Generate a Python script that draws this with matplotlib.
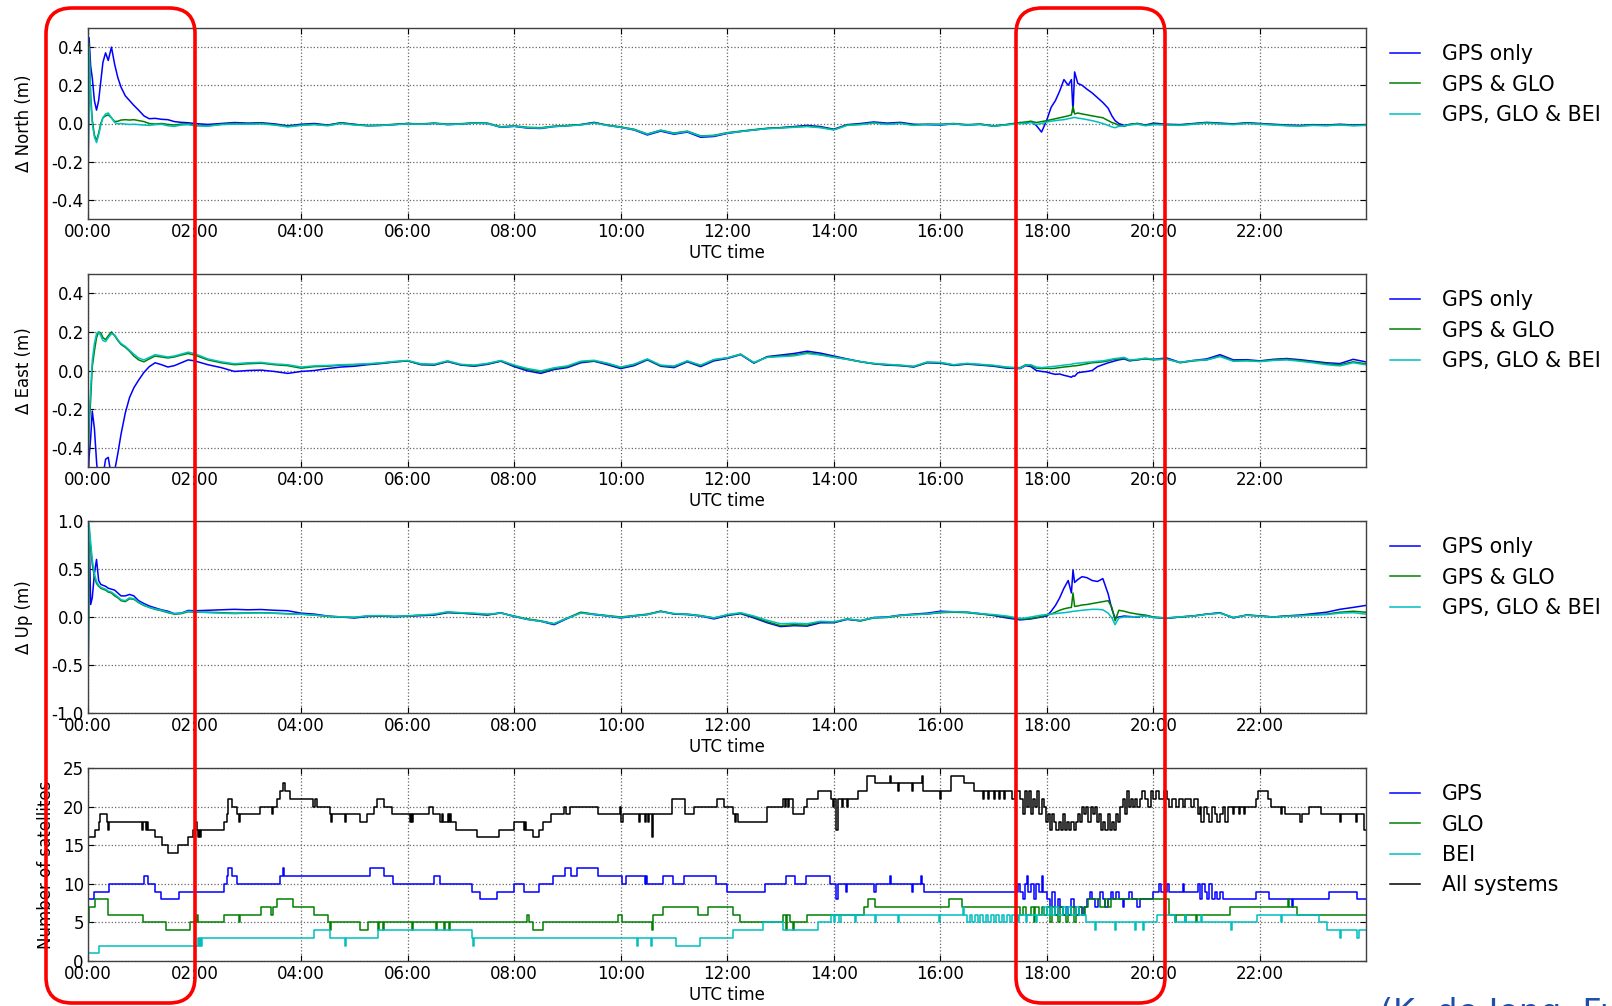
import matplotlib
matplotlib.use('Agg')
import matplotlib.pyplot as plt
from matplotlib.patches import FancyBboxPatch
from matplotlib.ticker import FuncFormatter
from matplotlib.transforms import IdentityTransform

# time axis for the position solutions (hours UTC)
t_pos = [0.0, 0.02, 0.05, 0.08, 0.12, 0.16, 0.2, 0.24, 0.28, 0.33,
         0.38, 0.44, 0.5, 0.56, 0.62, 0.7, 0.78, 0.86, 0.95, 1.05,
         1.15, 1.26, 1.38, 1.5, 1.62, 1.75, 1.88, 2.0,
         2.25, 2.5, 2.75, 3.0, 3.25, 3.5, 3.75, 4.0, 4.25, 4.5,
         4.75, 5.0, 5.25, 5.5, 5.75, 6.0, 6.25, 6.5, 6.75, 7.0,
         7.25, 7.5, 7.75, 8.0, 8.25, 8.5, 8.75, 9.0, 9.25, 9.5,
         9.75, 10.0, 10.25, 10.5, 10.75, 11.0, 11.25, 11.5, 11.75, 12.0,
         12.25, 12.5, 12.75, 13.0, 13.25, 13.5, 13.75, 14.0, 14.25, 14.5,
         14.75, 15.0, 15.25, 15.5, 15.75, 16.0, 16.25, 16.5, 16.75, 17.0,
         17.25,
         17.5, 17.6, 17.7, 17.8, 17.9, 18.0, 18.08, 18.16, 18.24, 18.32,
         18.4, 18.46, 18.49, 18.52, 18.58, 18.66, 18.75, 18.85, 18.95, 19.05,
         19.15, 19.22, 19.28, 19.35, 19.45, 19.55, 19.7,
         19.85, 20.0, 20.25, 20.5, 20.75, 21.0, 21.25, 21.5, 21.75, 22.0,
         22.25, 22.5, 22.75, 23.0, 23.25, 23.5, 23.75, 23.98]

# North error (m)
north_gps = [-0.47, 0.45, 0.30, 0.24, 0.12, 0.07, 0.12, 0.22, 0.32, 0.37,
             0.33, 0.40, 0.31, 0.24, 0.19, 0.145, 0.12, 0.095, 0.07, 0.04,
             0.025, 0.027, 0.022, 0.02, 0.01, 0.006, 0.004, 0.0,
             -0.005, 0.0, 0.005, 0.002, 0.004, -0.002, -0.012, -0.004, 0.0, -0.008,
             0.004, -0.004, -0.012, -0.01, -0.006, 0.0, -0.004, 0.001, -0.006, -0.003,
             0.002, 0.0, -0.02, -0.015, -0.024, -0.026, -0.016, -0.012, -0.006, 0.006,
             -0.01, -0.02, -0.034, -0.06, -0.04, -0.056, -0.045, -0.072, -0.068, -0.052,
             -0.042, -0.034, -0.026, -0.022, -0.016, -0.01, -0.016, -0.03, -0.006, 0.0,
             0.008, 0.002, 0.006, -0.004, -0.006, -0.008, -0.002, -0.008, -0.004, -0.014,
             -0.006,
             0.005, 0.0, 0.01, -0.01, -0.045, 0.02, 0.085, 0.12, 0.17, 0.23,
             0.2, 0.23, 0.06, 0.27, 0.21, 0.2, 0.18, 0.16, 0.135, 0.11,
             0.08, 0.04, 0.015, 0.0, -0.01, -0.005, 0.0,
             -0.008, 0.002, -0.004, -0.006, 0.0, 0.006, 0.002, -0.002, 0.004, 0.0,
             -0.004, -0.008, -0.01, -0.006, -0.008, -0.004, -0.008, -0.006]
north_glo = [-0.30, 0.42, 0.15, 0.02, -0.06, -0.09, -0.05, 0.0, 0.03, 0.04,
             0.045, 0.03, 0.01, 0.012, 0.018, 0.02, 0.018, 0.02, 0.015, 0.01,
             0.0, -0.003, 0.0, -0.005, -0.008, -0.003, -0.002, -0.01,
             -0.012, -0.004, 0.0, -0.002, 0.001, -0.006, -0.015, -0.008, -0.004, -0.01,
             0.003, -0.006, -0.01, -0.009, -0.004, 0.0, -0.002, 0.002, -0.003, -0.001,
             0.004, 0.002, -0.017, -0.012, -0.02, -0.022, -0.014, -0.01, -0.006, 0.004,
             -0.008, -0.018, -0.03, -0.055, -0.035, -0.05, -0.04, -0.065, -0.062, -0.048,
             -0.04, -0.032, -0.025, -0.022, -0.018, -0.014, -0.02, -0.032, -0.008, -0.004,
             0.004, -0.003, 0.002, -0.008, -0.003, -0.004, 0.0, -0.006, -0.003, -0.012,
             -0.005,
             0.005, 0.008, 0.012, 0.005, 0.01, 0.015, 0.02, 0.025, 0.03, 0.035,
             0.04, 0.045, 0.09, 0.05, 0.055, 0.05, 0.045, 0.04, 0.035, 0.03,
             0.015, 0.005, 0.0, -0.01, -0.015, -0.005, 0.0,
             -0.01, -0.002, -0.006, -0.008, -0.002, 0.004, 0.0, -0.004, 0.002, -0.002,
             -0.006, -0.01, -0.012, -0.008, -0.01, -0.006, -0.01, -0.008]
north_bei = [-0.35, 0.40, 0.12, 0.0, -0.07, -0.10, -0.06, -0.01, 0.03, 0.05,
             0.055, 0.03, 0.005, -0.002, 0.0, -0.003, -0.005, -0.004, -0.006, -0.008,
             -0.01, -0.006, -0.004, -0.012, -0.015, -0.008, -0.006, -0.012,
             -0.014, -0.006, -0.003, -0.004, -0.002, -0.008, -0.018, -0.01, -0.006, -0.012,
             0.0, -0.008, -0.012, -0.01, -0.006, -0.002, -0.004, 0.0, -0.005, -0.003,
             0.002, 0.0, -0.019, -0.014, -0.022, -0.024, -0.016, -0.012, -0.008, 0.002,
             -0.01, -0.02, -0.032, -0.056, -0.036, -0.052, -0.042, -0.066, -0.064, -0.05,
             -0.042, -0.034, -0.027, -0.024, -0.02, -0.016, -0.022, -0.034, -0.01, -0.006,
             0.002, -0.005, 0.0, -0.01, -0.005, -0.006, -0.002, -0.008, -0.005, -0.014,
             -0.007,
             0.0, 0.0, 0.005, -0.005, 0.0, 0.008, 0.012, 0.015, 0.018, 0.02,
             0.025, 0.028, 0.03, 0.032, 0.028, 0.025, 0.02, 0.015, 0.008, 0.0,
             -0.01, -0.018, -0.022, -0.015, -0.012, -0.008, -0.003,
             -0.012, -0.006, -0.008, -0.01, -0.004, 0.002, -0.002, -0.006, 0.0, -0.004,
             -0.008, -0.012, -0.014, -0.01, -0.012, -0.008, -0.012, -0.01]

# East error (m)
east_gps = [-0.6, -0.45, -0.35, -0.21, -0.3, -0.47, -0.6, -0.62, -0.55, -0.46,
            -0.45, -0.55, -0.52, -0.43, -0.33, -0.22, -0.14, -0.09, -0.05, -0.01,
            0.02, 0.04, 0.03, 0.018, 0.025, 0.04, 0.055, 0.05,
            0.03, 0.015, -0.005, 0.0, 0.002, -0.005, -0.015, -0.005, 0.0, 0.01,
            0.018, 0.022, 0.03, 0.036, 0.044, 0.05, 0.03, 0.028, 0.046, 0.028,
            0.022, 0.032, 0.048, 0.02, -0.002, -0.015, 0.005, 0.015, 0.04, 0.048,
            0.03, 0.01, 0.025, 0.055, 0.022, 0.015, 0.045, 0.02, 0.05, 0.062,
            0.082, 0.038, 0.072, 0.08, 0.088, 0.1, 0.09, 0.075, 0.06, 0.046,
            0.035, 0.028, 0.025, 0.018, 0.04, 0.038, 0.026, 0.033, 0.028, 0.022,
            0.012,
            0.01, 0.025, 0.02, 0.0, -0.005, -0.008, -0.015, -0.02, -0.018, -0.025,
            -0.03, -0.035, -0.028, -0.03, -0.012, -0.008, -0.005, 0.0, 0.02, 0.03,
            0.04, 0.045, 0.05, 0.055, 0.06, 0.05, 0.055,
            0.062, 0.058, 0.065, 0.042, 0.052, 0.06, 0.082, 0.055, 0.056, 0.05,
            0.058, 0.062, 0.056, 0.048, 0.04, 0.036, 0.058, 0.045]
east_glo = [-0.5, -0.3, -0.15, 0.02, 0.1, 0.17, 0.2, 0.195, 0.17, 0.16,
            0.18, 0.2, 0.18, 0.155, 0.135, 0.12, 0.1, 0.075, 0.055, 0.045,
            0.06, 0.075, 0.07, 0.065, 0.07, 0.08, 0.088, 0.08,
            0.055, 0.04, 0.03, 0.035, 0.038, 0.03, 0.025, 0.012, 0.02, 0.022,
            0.028, 0.03, 0.033, 0.038, 0.045, 0.05, 0.032, 0.03, 0.048, 0.03,
            0.025, 0.035, 0.05, 0.025, 0.005, -0.008, 0.01, 0.02, 0.045, 0.05,
            0.035, 0.015, 0.03, 0.058, 0.025, 0.02, 0.048, 0.025, 0.055, 0.065,
            0.085, 0.04, 0.07, 0.075, 0.08, 0.092, 0.083, 0.07, 0.058, 0.045,
            0.035, 0.03, 0.026, 0.02, 0.042, 0.04, 0.028, 0.035, 0.03, 0.025,
            0.015,
            0.015, 0.03, 0.025, 0.012, 0.01, 0.012, 0.01, 0.012, 0.015, 0.018,
            0.02, 0.022, 0.024, 0.024, 0.026, 0.03, 0.035, 0.04, 0.042, 0.045,
            0.05, 0.055, 0.058, 0.06, 0.065, 0.052, 0.056,
            0.06, 0.055, 0.06, 0.04, 0.05, 0.055, 0.075, 0.05, 0.052, 0.048,
            0.055, 0.058, 0.052, 0.044, 0.035, 0.03, 0.045, 0.035]
east_bei = [-0.45, -0.25, -0.1, 0.05, 0.14, 0.19, 0.2, 0.18, 0.155, 0.15,
            0.17, 0.19, 0.185, 0.16, 0.14, 0.125, 0.105, 0.085, 0.065, 0.055,
            0.068, 0.082, 0.076, 0.07, 0.075, 0.085, 0.095, 0.088,
            0.06, 0.045, 0.035, 0.04, 0.042, 0.034, 0.03, 0.018, 0.024, 0.026,
            0.03, 0.032, 0.035, 0.04, 0.047, 0.052, 0.035, 0.033, 0.05, 0.032,
            0.028, 0.037, 0.052, 0.028, 0.01, -0.002, 0.014, 0.024, 0.048, 0.053,
            0.038, 0.018, 0.033, 0.06, 0.028, 0.023, 0.05, 0.028, 0.057, 0.066,
            0.084, 0.042, 0.068, 0.072, 0.076, 0.088, 0.08, 0.068, 0.058, 0.046,
            0.037, 0.032, 0.028, 0.022, 0.044, 0.042, 0.03, 0.037, 0.032, 0.027,
            0.018,
            0.012, 0.028, 0.03, 0.018, 0.015, 0.018, 0.02, 0.022, 0.025, 0.028,
            0.03, 0.032, 0.035, 0.036, 0.038, 0.04, 0.043, 0.045, 0.048, 0.05,
            0.055, 0.058, 0.062, 0.064, 0.068, 0.055, 0.058,
            0.064, 0.058, 0.058, 0.042, 0.052, 0.055, 0.072, 0.048, 0.05, 0.046,
            0.052, 0.055, 0.048, 0.04, 0.03, 0.024, 0.04, 0.03]

# Up error (m)
up_gps = [-1.0, 0.95, 0.13, 0.2, 0.45, 0.6, 0.38, 0.34, 0.33, 0.32,
          0.30, 0.29, 0.28, 0.25, 0.22, 0.22, 0.235, 0.22, 0.17, 0.14,
          0.115, 0.095, 0.075, 0.06, 0.035, 0.04, 0.068, 0.065,
          0.07, 0.075, 0.08, 0.075, 0.078, 0.07, 0.065, 0.04, 0.03, 0.01,
          0.0, -0.01, 0.005, 0.01, 0.002, 0.008, 0.015, 0.02, 0.045, 0.04,
          0.03, 0.02, 0.045, 0.005, -0.025, -0.045, -0.08, -0.015, 0.045, 0.025,
          0.01, -0.01, 0.01, 0.025, 0.06, 0.03, 0.025, 0.01, -0.02, 0.015,
          0.035, -0.01, -0.06, -0.1, -0.09, -0.095, -0.06, -0.06, -0.025, -0.04,
          -0.005, 0.0, 0.02, 0.03, 0.04, 0.06, 0.055, 0.05, 0.035, 0.015,
          -0.01,
          -0.03, -0.025, -0.02, -0.01, 0.0, 0.01, 0.06, 0.12, 0.2, 0.3,
          0.38, 0.25, 0.49, 0.36, 0.39, 0.42, 0.41, 0.38, 0.37, 0.4,
          0.24, 0.08, -0.01, 0.0, 0.01, 0.005, 0.0,
          0.015, -0.005, -0.015, 0.0, 0.012, 0.03, 0.045, -0.01, 0.02, 0.012,
          0.0, 0.012, 0.02, 0.035, 0.05, 0.08, 0.1, 0.12]
up_glo = [-1.0, 0.9, 0.72, 0.55, 0.42, 0.35, 0.32, 0.3, 0.29, 0.28,
          0.26, 0.25, 0.22, 0.2, 0.17, 0.16, 0.19, 0.185, 0.15, 0.12,
          0.1, 0.08, 0.065, 0.045, 0.03, 0.035, 0.055, 0.05,
          0.05, 0.045, 0.04, 0.042, 0.045, 0.04, 0.035, 0.03, 0.02, 0.005,
          0.0, -0.005, 0.01, 0.012, 0.005, 0.01, 0.02, 0.025, 0.05, 0.04,
          0.035, 0.025, 0.04, 0.01, -0.02, -0.04, -0.07, -0.01, 0.05, 0.03,
          0.015, 0.0, 0.015, 0.03, 0.06, 0.035, 0.03, 0.015, -0.01, 0.02,
          0.04, 0.0, -0.05, -0.09, -0.08, -0.085, -0.05, -0.055, -0.02, -0.04,
          -0.01, -0.005, 0.015, 0.025, 0.03, 0.045, 0.05, 0.045, 0.03, 0.02,
          0.0,
          -0.02, -0.02, -0.015, -0.005, 0.005, 0.02, 0.03, 0.05, 0.07, 0.085,
          0.095, 0.1, 0.25, 0.11, 0.115, 0.125, 0.13, 0.14, 0.15, 0.16,
          0.17, 0.1, -0.04, 0.07, 0.06, 0.045, 0.03,
          0.02, 0.0, -0.01, 0.0, 0.01, 0.03, 0.04, -0.005, 0.02, 0.01,
          0.0, 0.01, 0.015, 0.025, 0.03, 0.05, 0.06, 0.05]
up_bei = [-1.0, 0.98, 0.78, 0.6, 0.45, 0.37, 0.33, 0.31, 0.3, 0.29,
          0.27, 0.26, 0.235, 0.21, 0.18, 0.17, 0.2, 0.19, 0.155, 0.125,
          0.1, 0.085, 0.07, 0.05, 0.035, 0.04, 0.06, 0.055,
          0.045, 0.04, 0.035, 0.04, 0.042, 0.038, 0.032, 0.028, 0.02, 0.008,
          0.002, -0.002, 0.012, 0.015, 0.008, 0.012, 0.022, 0.03, 0.055, 0.045,
          0.04, 0.03, 0.042, 0.008, -0.025, -0.045, -0.07, -0.012, 0.04, 0.028,
          0.012, -0.005, 0.012, 0.025, 0.055, 0.035, 0.028, 0.012, -0.01, 0.025,
          0.045, 0.01, -0.035, -0.07, -0.065, -0.07, -0.045, -0.05, -0.02, -0.035,
          -0.008, -0.002, 0.018, 0.025, 0.032, 0.05, 0.055, 0.05, 0.035, 0.025,
          0.01,
          -0.015, -0.01, 0.0, 0.01, 0.02, 0.025, 0.03, 0.035, 0.04, 0.045,
          0.05, 0.055, 0.06, 0.06, 0.065, 0.07, 0.075, 0.08, 0.08, 0.075,
          0.04, -0.01, -0.08, -0.01, 0.0, 0.0, 0.005,
          0.01, -0.005, -0.01, 0.002, 0.01, 0.028, 0.04, -0.005, 0.018, 0.008,
          0.0, 0.008, 0.012, 0.02, 0.025, 0.04, 0.045, 0.03]

# number of satellites: (hour where the count changes, count)
sats_gps = [(0.0, 8), (0.12, 9), (0.4, 10), (1.05, 11), (1.12, 10), (1.25, 9), (1.37, 8),
            (1.7, 9), (2.55, 10), (2.6, 11), (2.63, 12), (2.7, 11), (2.8, 10), (3.6, 11),
            (3.66, 12), (3.68, 11), (5.3, 12), (5.55, 11), (5.72, 10), (6.5, 11), (6.6, 10),
            (7.2, 9), (7.35, 8), (7.68, 9), (8.0, 10), (8.19, 9), (8.46, 10), (8.73, 11),
            (8.96, 12), (9.06, 11), (9.17, 12), (9.57, 11), (10.02, 10), (10.09, 11),
            (10.45, 10), (10.48, 11), (10.5, 10), (10.79, 11), (10.99, 10), (11.19, 11),
            (11.79, 10), (12.0, 9), (12.7, 10), (13.1, 11), (13.27, 10), (13.47, 11),
            (13.93, 10), (14.05, 8), (14.08, 10), (14.22, 9), (14.25, 10), (14.76, 9),
            (14.79, 10), (15.06, 11), (15.08, 10), (15.46, 9), (15.48, 10), (15.63, 11),
            (15.66, 10), (15.7, 9), (17.45, 10), (17.5, 9), (17.55, 8), (17.58, 10),
            (17.62, 11), (17.65, 9), (17.7, 10), (17.75, 8), (17.8, 10), (17.85, 9),
            (17.9, 11), (17.93, 9), (18.0, 8), (18.05, 7), (18.1, 9), (18.15, 6), (18.2, 8),
            (18.25, 7), (18.3, 6), (18.35, 7), (18.4, 6), (18.45, 8), (18.5, 7), (18.55, 6),
            (18.6, 7), (18.65, 6), (18.7, 7), (18.75, 8), (18.8, 9), (18.85, 8), (18.9, 7),
            (18.95, 8), (19.0, 9), (19.05, 8), (19.1, 7), (19.15, 8), (19.2, 9), (19.25, 8),
            (19.3, 9), (19.35, 8), (19.42, 7), (19.45, 8), (19.55, 9), (19.6, 8), (19.7, 7),
            (19.75, 8), (20.0, 9), (20.1, 10), (20.15, 9), (20.25, 10), (20.3, 9),
            (20.55, 10), (20.58, 9), (20.83, 10), (20.87, 8), (20.92, 10), (20.96, 9),
            (21.0, 8), (21.05, 10), (21.1, 8), (21.15, 9), (21.2, 8), (21.25, 9), (21.3, 8),
            (21.93, 9), (22.17, 8), (22.6, 7), (22.62, 8), (23.3, 9), (23.83, 8), (23.99, 8)]
sats_glo = [(0.0, 5), (0.01, 7), (0.13, 8), (0.38, 6), (1.03, 5), (1.47, 4), (1.91, 5),
            (2.04, 6), (2.07, 5), (2.55, 6), (2.84, 5), (2.86, 6), (3.25, 7), (3.44, 6),
            (3.47, 7), (3.55, 8), (3.85, 7), (4.25, 6), (4.5, 5), (4.54, 4), (4.57, 5),
            (5.1, 4), (5.25, 5), (5.44, 4), (5.46, 5), (5.54, 4), (5.56, 5), (6.08, 4),
            (6.1, 5), (6.54, 4), (6.56, 5), (6.68, 4), (6.7, 5), (6.78, 4), (6.8, 5),
            (8.24, 6), (8.27, 5), (8.35, 4), (8.55, 5), (9.95, 6), (10.02, 5), (10.58, 4),
            (10.6, 6), (10.79, 7), (11.46, 6), (11.63, 7), (12.1, 6), (12.24, 5), (13.04, 6),
            (13.1, 4), (13.12, 6), (13.17, 5), (13.23, 4), (13.25, 5), (13.5, 6), (14.57, 7),
            (14.65, 8), (14.78, 7), (16.16, 8), (16.4, 7), (17.5, 6), (17.55, 7), (17.6, 6),
            (17.7, 7), (17.75, 5), (17.78, 7), (17.85, 6), (17.9, 7), (17.95, 6), (18.0, 7),
            (18.05, 5), (18.1, 7), (18.15, 6), (18.2, 5), (18.25, 7), (18.3, 6), (18.35, 5),
            (18.4, 6), (18.45, 7), (18.5, 5), (18.55, 6), (18.6, 7), (18.65, 6), (18.72, 7),
            (18.78, 8), (19.0, 7), (19.1, 8), (19.15, 7), (19.2, 8), (20.3, 6), (20.4, 5),
            (20.42, 6), (20.6, 5), (20.62, 6), (20.8, 5), (20.82, 6), (21.43, 7), (22.52, 8),
            (22.55, 7), (22.7, 6), (23.99, 6)]
sats_bei = [(0.0, 1), (0.2, 2), (2.06, 3), (2.08, 2), (2.1, 3), (2.12, 2), (2.14, 3),
            (4.25, 4), (4.55, 3), (4.82, 2), (4.84, 3), (5.45, 4), (7.2, 3), (7.22, 2),
            (7.24, 3), (10.3, 2), (10.32, 3), (10.56, 2), (10.58, 3), (11.04, 2), (11.48, 3),
            (12.11, 4), (12.68, 5), (13.04, 4), (13.7, 5), (13.94, 6), (14.0, 5), (14.03, 6),
            (14.1, 5), (14.13, 6), (14.4, 5), (14.42, 6), (14.78, 5), (14.8, 6), (15.2, 5),
            (15.22, 6), (15.98, 5), (16.0, 6), (16.42, 7), (16.45, 6), (16.5, 5), (16.55, 6),
            (16.6, 5), (16.65, 6), (16.7, 5), (16.75, 6), (16.8, 5), (16.85, 6), (16.9, 5),
            (16.95, 6), (17.0, 5), (17.05, 6), (17.1, 5), (17.15, 6), (17.2, 5), (17.25, 6),
            (17.3, 5), (17.35, 6), (17.45, 5), (17.48, 6), (17.6, 5), (17.62, 6), (17.8, 5),
            (17.82, 6), (17.95, 7), (18.0, 6), (18.05, 7), (18.1, 6), (18.15, 7), (18.2, 6),
            (18.3, 7), (18.35, 6), (18.4, 7), (18.45, 6), (18.55, 7), (18.6, 6), (18.73, 5),
            (18.9, 4), (18.92, 5), (19.28, 4), (19.3, 5), (19.65, 4), (19.67, 5), (19.8, 4),
            (19.82, 5), (20.06, 6), (20.4, 5), (20.6, 6), (20.62, 5), (20.9, 6), (20.92, 5),
            (21.45, 4), (21.47, 5), (21.95, 6), (22.4, 5), (22.42, 6), (23.1, 5), (23.25, 4),
            (23.5, 3), (23.52, 4), (23.82, 3), (23.85, 4), (23.99, 4)]
sats_all = [(0.0, 16), (0.13, 17), (0.2, 18), (0.23, 19), (0.35, 18), (0.37, 17), (0.4, 18),
            (1.02, 17), (1.04, 18), (1.08, 17), (1.1, 18), (1.13, 17), (1.25, 16), (1.38, 15),
            (1.5, 14), (1.69, 15), (1.88, 16), (1.97, 17), (2.0, 18), (2.04, 17), (2.06, 16),
            (2.08, 17), (2.1, 16), (2.12, 17), (2.55, 18), (2.6, 19), (2.63, 21), (2.7, 20),
            (2.79, 19), (2.84, 18), (2.86, 19), (3.23, 20), (3.45, 19), (3.48, 20), (3.54, 21),
            (3.6, 22), (3.66, 23), (3.69, 22), (3.8, 21), (4.23, 20), (4.26, 21), (4.3, 20),
            (4.55, 19), (4.56, 18), (4.58, 19), (4.82, 18), (4.84, 19), (5.1, 18), (5.23, 19),
            (5.36, 20), (5.42, 21), (5.55, 20), (5.7, 19), (6.04, 18), (6.06, 19), (6.08, 18),
            (6.1, 19), (6.4, 20), (6.47, 19), (6.6, 18), (6.65, 19), (6.67, 18), (6.75, 19),
            (6.77, 18), (6.8, 19), (6.82, 18), (6.9, 17), (7.3, 16), (7.72, 17), (8.0, 18),
            (8.18, 17), (8.2, 18), (8.23, 17), (8.35, 16), (8.46, 17), (8.55, 18), (8.7, 19),
            (8.93, 20), (8.98, 19), (9.05, 20), (9.57, 19), (9.98, 20), (10.0, 18),
            (10.05, 19), (10.35, 18), (10.37, 19), (10.45, 18), (10.47, 19), (10.52, 18),
            (10.54, 19), (10.59, 16), (10.61, 19), (10.97, 21), (11.2, 19), (11.37, 20),
            (11.8, 21), (11.93, 20), (12.1, 19), (12.14, 18), (12.16, 19), (12.2, 18),
            (12.74, 20), (13.04, 21), (13.08, 20), (13.1, 21), (13.14, 20), (13.16, 21),
            (13.24, 19), (13.44, 20), (13.5, 21), (13.7, 22), (13.94, 21), (13.98, 20),
            (14.0, 21), (14.05, 17), (14.08, 21), (14.15, 20), (14.17, 21), (14.25, 20),
            (14.27, 21), (14.45, 22), (14.62, 24), (14.78, 23), (15.06, 24), (15.08, 23),
            (15.2, 22), (15.22, 23), (15.46, 22), (15.48, 23), (15.65, 24), (15.68, 22),
            (16.0, 21), (16.02, 22), (16.2, 24), (16.44, 23), (16.64, 22), (16.8, 21),
            (16.82, 22), (16.9, 21), (16.92, 22), (17.0, 21), (17.02, 22), (17.1, 21),
            (17.12, 22), (17.2, 21), (17.22, 22), (17.34, 21), (17.4, 22), (17.5, 21),
            (17.55, 19), (17.58, 22), (17.62, 20), (17.66, 22), (17.7, 19), (17.74, 21),
            (17.78, 20), (17.82, 22), (17.86, 19), (17.9, 21), (17.95, 20), (17.98, 18),
            (18.02, 19), (18.06, 17), (18.1, 19), (18.14, 18), (18.18, 17), (18.22, 18),
            (18.26, 17), (18.3, 19), (18.34, 17), (18.38, 18), (18.42, 17), (18.46, 18),
            (18.5, 17), (18.54, 18), (18.58, 19), (18.62, 18), (18.66, 20), (18.7, 19),
            (18.74, 20), (18.78, 18), (18.82, 20), (18.86, 19), (18.9, 20), (18.94, 18),
            (18.98, 19), (19.02, 17), (19.06, 18), (19.1, 17), (19.14, 19), (19.18, 17),
            (19.22, 18), (19.26, 17), (19.3, 19), (19.34, 18), (19.38, 20), (19.42, 21),
            (19.46, 19), (19.5, 22), (19.54, 20), (19.58, 21), (19.62, 20), (19.66, 21),
            (19.7, 20), (19.74, 21), (19.78, 22), (19.84, 21), (19.9, 20), (19.95, 22),
            (20.0, 21), (20.05, 22), (20.1, 21), (20.2, 22), (20.25, 21), (20.3, 20),
            (20.35, 21), (20.42, 20), (20.48, 21), (20.55, 20), (20.6, 21), (20.7, 20),
            (20.76, 21), (20.83, 19), (20.87, 20), (20.9, 18), (20.95, 20), (21.0, 19),
            (21.05, 18), (21.1, 20), (21.15, 19), (21.2, 18), (21.25, 19), (21.3, 20),
            (21.35, 18), (21.4, 20), (21.5, 19), (21.52, 20), (21.6, 19), (21.62, 20),
            (21.7, 19), (21.72, 20), (21.93, 21), (21.96, 22), (22.15, 21), (22.2, 20),
            (22.4, 19), (22.42, 20), (22.47, 19), (22.76, 18), (22.78, 19), (22.92, 20),
            (23.15, 19), (23.5, 18), (23.52, 19), (23.8, 18), (23.82, 19), (23.95, 17),
            (23.99, 17)]

hour_ticks = [0, 2, 4, 6, 8, 10, 12, 14, 16, 18, 20, 22]
pos_labels = ['GPS only', 'GPS & GLO', 'GPS, GLO & BEI']
sat_labels = ['GPS', 'GLO', 'BEI', 'All systems']


def hhmm(v, pos):
    return '%02d:%02d' % (int(v), int(round((v % 1) * 60)))


W, H = 1612.0, 1006.0
fig = plt.figure(figsize=(W / 100, H / 100), dpi=100)
panel_px = [(28, 219), (274, 467), (521, 713), (768, 961)]
axes = [fig.add_axes([88 / W, 1 - b / H, 1278 / W, (b - t) / H]) for t, b in panel_px]

pos_panels = [
    (north_gps, north_glo, north_bei, u'\u0394 North (m)', (-0.5, 0.5), [-0.4, -0.2, 0.0, 0.2, 0.4]),
    (east_gps, east_glo, east_bei, u'\u0394 East (m)', (-0.5, 0.5), [-0.4, -0.2, 0.0, 0.2, 0.4]),
    (up_gps, up_glo, up_bei, u'\u0394 Up (m)', (-1.0, 1.0), [-1.0, -0.5, 0.0, 0.5, 1.0]),
]

for ax, (s1, s2, s3, ylab, ylim, yt) in zip(axes[:3], pos_panels):
    ax.plot(t_pos, s1, color='b', lw=1.1, label=pos_labels[0])
    ax.plot(t_pos, s2, color='g', lw=1.1, label=pos_labels[1])
    ax.plot(t_pos, s3, color='c', lw=1.1, label=pos_labels[2])
    ax.set_ylim(*ylim)
    ax.set_yticks(yt)
    ax.yaxis.set_major_formatter(FuncFormatter(lambda v, p: '%.1f' % v))
    ax.set_ylabel(ylab, fontsize=12)
    ax.yaxis.set_label_coords(-0.043, 0.5)

ax4 = axes[3]
for data, col, lab in zip([sats_gps, sats_glo, sats_bei, sats_all], ['b', 'g', 'c', 'k'], sat_labels):
    tt = [p[0] for p in data]
    nn = [p[1] for p in data]
    ax4.step(tt, nn, where='post', color=col, lw=1.1, label=lab)
ax4.set_ylim(0, 25)
ax4.set_yticks([0, 5, 10, 15, 20, 25])
ax4.set_ylabel('Number of satellites', fontsize=12)
ax4.yaxis.set_label_coords(-0.026, 0.5)

for ax in axes:
    ax.set_xlim(0, 23.99)
    ax.set_xticks(hour_ticks)
    ax.xaxis.set_major_formatter(FuncFormatter(hhmm))
    ax.grid(True, color='0.4', linestyle=':', linewidth=0.9)
    ax.tick_params(direction='in', top=True, right=True, labelsize=12, length=4, pad=3)
    ax.set_xlabel('UTC time', fontsize=12, labelpad=2)
    for s in ax.spines.values():
        s.set_linewidth(1.0)
        s.set_color('0.25')
    ax.legend(loc='upper left', bbox_to_anchor=(1.019, 0.915), frameon=False,
              fontsize=14.8, handlelength=1.46, handletextpad=1.07,
              labelspacing=0.5, borderpad=0, borderaxespad=0)

# red highlight boxes (pixel coordinates)
for x0, x1 in [(46, 195), (1016, 1165)]:
    box = FancyBboxPatch((x0, 3), x1 - x0, 995, boxstyle='round,pad=0,rounding_size=26',
                         transform=IdentityTransform(), fill=False, ec='red', lw=2.6)
    fig.add_artist(box)

fig.text(1380 / W, -17 / H, '(K. de Jong, Fugro)', fontsize=24, color='#1e50aa', va='baseline')

fig.savefig('out.png', dpi=100)
